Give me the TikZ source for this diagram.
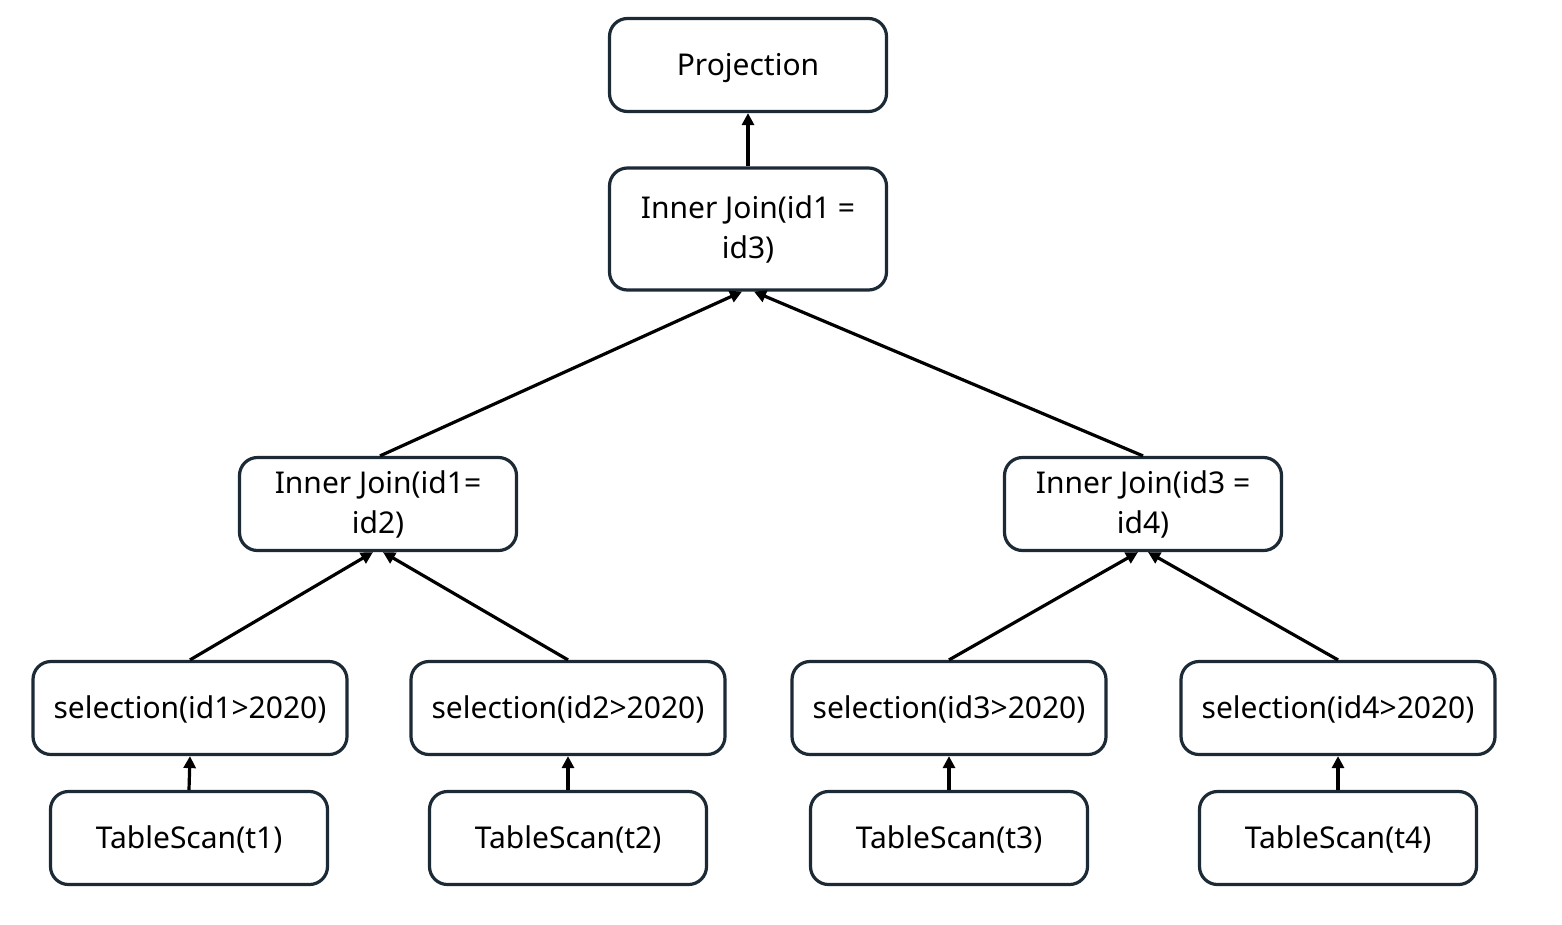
\documentclass[tikz,border=0pt]{standalone}
\usepackage{fontspec}
\setmainfont{Noto Sans}
\usetikzlibrary{arrows.meta}
\definecolor{boxline}{HTML}{1C2A36}
\tikzset{
  opbox/.style={draw=boxline, line width=3.2pt, rounded corners=18pt, fill=white,
    minimum width=277pt, minimum height=93pt, inner sep=0pt, align=center,
    font=\fontsize{30}{40}\selectfont},
  oneline/.style={opbox, text height=24pt, text depth=4pt},
  widebox/.style={oneline, minimum width=314pt},
  flow/.style={draw=black, line width=3.2pt, -{Triangle[length=12pt,width=12pt]}}
}
\begin{document}
\begin{tikzpicture}[x=1pt,y=-1pt]
\useasboundingbox (0,0) rectangle (1562,924);
\fill[white] (0,0) rectangle (1562,924);

% plan operators
\node[oneline] (proj) at (748,65) {Projection};
\node[opbox, minimum height=122pt] (ij13) at (748,229) {Inner Join(id1 =\\id3)};
\node[opbox] (ij12) at (378,504) {Inner Join(id1=\\id2)};
\node[opbox] (ij34) at (1143,504) {Inner Join(id3 =\\id4)};

\node[widebox] (sel1) at (190,708) {selection(id1>2020)};
\node[widebox] (sel2) at (568,708) {selection(id2>2020)};
\node[widebox] (sel3) at (949,708) {selection(id3>2020)};
\node[widebox] (sel4) at (1338,708) {selection(id4>2020)};

\node[oneline] (ts1) at (189,838) {TableScan(t1)};
\node[oneline] (ts2) at (568,838) {TableScan(t2)};
\node[oneline] (ts3) at (949,838) {TableScan(t3)};
\node[oneline] (ts4) at (1338,838) {TableScan(t4)};

% data flow, bottom up
\draw[flow] (ts1.north) -- (sel1.south);
\draw[flow] (ts2.north) -- (sel2.south);
\draw[flow] (ts3.north) -- (sel3.south);
\draw[flow] (ts4.north) -- (sel4.south);

\draw[flow] (sel1.north) -- ([xshift=-5pt]ij12.south);
\draw[flow] (sel2.north) -- ([xshift=5pt]ij12.south);
\draw[flow] (sel3.north) -- ([xshift=-5pt]ij34.south);
\draw[flow] (sel4.north) -- ([xshift=5pt]ij34.south);

\draw[flow] ([xshift=2pt]ij12.north) -- ([xshift=-6pt]ij13.south);
\draw[flow] (ij34.north) -- ([xshift=6pt]ij13.south);

\draw[flow] (ij13.north) -- (proj.south);
\end{tikzpicture}
\end{document}
